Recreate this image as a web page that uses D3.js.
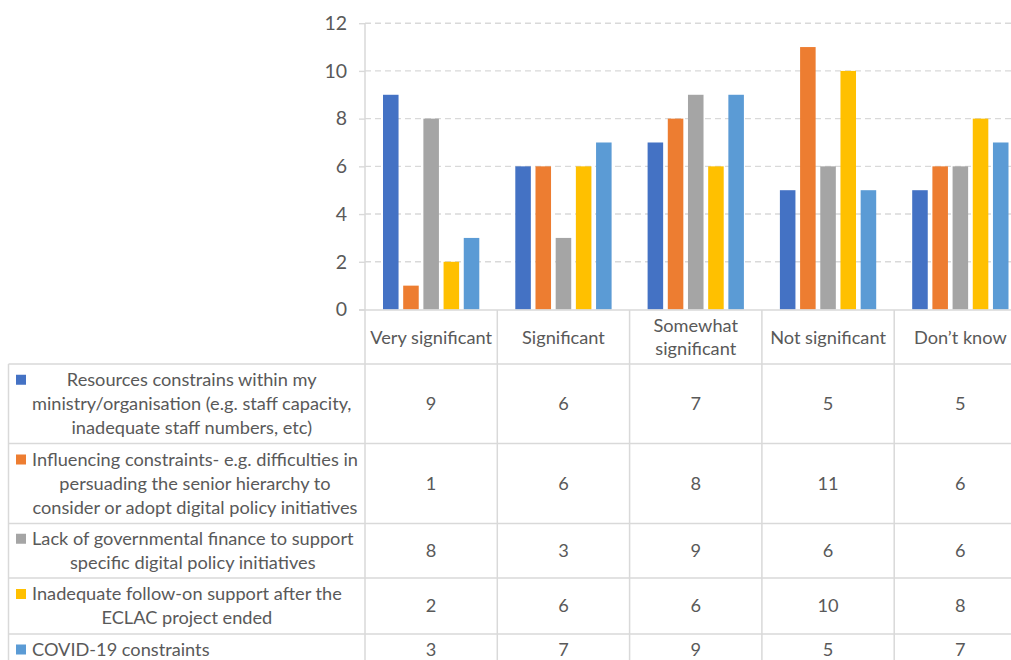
<!DOCTYPE html>
<html>
<head>
<meta charset="utf-8">
<script src="https://cdn.jsdelivr.net/npm/d3@7"></script>
<style>
  html, body { margin: 0; padding: 0; background: #fff; }
  svg { display: block; }
  text { font-family: Lato, "Open Sans", sans-serif; fill: #595959; }
</style>
</head>
<body>
<svg id="chart" width="1011" height="660"></svg>
<script>
// Response categories (x axis / table columns)
const categories = ["Very significant", "Significant", "Somewhat significant", "Not significant", "Don’t know"];
const categoryLines = [["Very significant"], ["Significant"], ["Somewhat", "significant"], ["Not significant"], ["Don’t know"]];

// Constraint series (legend / table rows)
const seriesNames = [
  "Resources constrains within my ministry/organisation (e.g. staff capacity, inadequate staff numbers, etc)",
  "Influencing constraints- e.g. difficulties in persuading the senior hierarchy to consider or adopt digital policy initiatives",
  "Lack of governmental finance to support specific digital policy initiatives",
  "Inadequate follow-on support after the ECLAC project ended",
  "COVID-19 constraints"
];
const seriesLines = [
  ["Resources constrains within my", "ministry/organisation (e.g. staff capacity,", "inadequate staff numbers, etc)"],
  ["Influencing constraints- e.g. difficulties in", "persuading the senior hierarchy to", "consider or adopt digital policy initiatives"],
  ["Lack of governmental finance to support", "specific digital policy initiatives"],
  ["Inadequate follow-on support after the", "ECLAC project ended"],
  ["COVID-19 constraints"]
];
const seriesColors = ["#4472C4", "#ED7D31", "#A5A5A5", "#FFC000", "#5B9BD5"];

// Counts per category for each series
const resources   = [9, 6, 7, 5, 5];
const influencing = [1, 6, 8, 11, 6];
const finance     = [8, 3, 9, 6, 6];
const followOn    = [2, 6, 6, 10, 8];
const covid       = [3, 7, 9, 5, 7];
const seriesValues = [resources, influencing, finance, followOn, covid];

const yTicks = [0, 2, 4, 6, 8, 10, 12];

// ---- layout ----
const svg = d3.select("#chart");
const plotLeft = 365;
const colWidth = 132.3;
const plotTop = 23.2, plotBottom = 309.5;
const tableLeft = 8.5;
const headerTop = 310, headerBottom = 364;
const rowEdges = [364, 443.5, 523.5, 578, 634, 666];
const gridColor = "#D9D9D9";
const fontSize = 18.2;

const x0 = d3.scaleBand()
  .domain(categories)
  .range([plotLeft, plotLeft + colWidth * categories.length])
  .padding(0);

const x1 = d3.scaleBand()
  .domain(d3.range(seriesNames.length))
  .range([18, colWidth - 18])
  .paddingInner(0.23);

const y = d3.scaleLinear().domain([0, 12]).range([plotBottom, plotTop]);

// dashed horizontal gridlines
svg.append("g")
  .selectAll("line")
  .data(yTicks.filter(t => t > 0))
  .join("line")
  .attr("x1", plotLeft).attr("x2", 1011)
  .attr("y1", d => y(d)).attr("y2", d => y(d))
  .attr("stroke", gridColor)
  .attr("stroke-width", 1.4)
  .attr("stroke-dasharray", "6,4");

// y axis with outward ticks
const yAxis = svg.append("g")
  .attr("transform", `translate(${plotLeft},0)`)
  .call(d3.axisLeft(y).tickValues(yTicks).tickSize(6).tickPadding(12));
yAxis.select(".domain").remove();
yAxis.selectAll(".tick line").attr("stroke", gridColor).attr("stroke-width", 1.4);
yAxis.selectAll(".tick text")
  .attr("font-size", 19.5)
  .attr("font-family", "Lato, sans-serif")
  .attr("fill", "#595959");

// bars
svg.append("g")
  .selectAll("g")
  .data(categories)
  .join("g")
  .attr("transform", d => `translate(${x0(d)},0)`)
  .selectAll("rect")
  .data((c, ci) => seriesValues.map((vals, si) => ({ si, v: vals[ci] })))
  .join("rect")
  .attr("x", d => x1(d.si))
  .attr("width", x1.bandwidth())
  .attr("y", d => y(d.v))
  .attr("height", d => y(0) - y(d.v))
  .attr("fill", d => seriesColors[d.si]);

// ---- data table grid ----
const grid = svg.append("g").attr("stroke", gridColor).attr("stroke-width", 1.5);
const tableRight = 1011;
// x axis line / header top
grid.append("line").attr("x1", plotLeft - 6).attr("x2", tableRight).attr("y1", headerTop).attr("y2", headerTop);
// row separators
rowEdges.slice(0, -1).forEach(ry => {
  grid.append("line")
    .attr("x1", tableLeft).attr("x2", tableRight)
    .attr("y1", ry).attr("y2", ry);
});
// vertical separators
grid.append("line").attr("x1", plotLeft).attr("x2", plotLeft).attr("y1", plotTop).attr("y2", 660);
categories.forEach((c, i) => {
  if (i === 0) return;
  grid.append("line").attr("x1", x0(c)).attr("x2", x0(c)).attr("y1", headerTop).attr("y2", 660);
});
grid.append("line").attr("x1", tableLeft).attr("x2", tableLeft).attr("y1", headerBottom).attr("y2", 660);

// category header labels
const lineH = 23;
const headerMid = (headerTop + headerBottom) / 2 + 0.5;
svg.append("g")
  .selectAll("text")
  .data(categories)
  .join("text")
  .attr("text-anchor", "middle")
  .attr("font-size", fontSize)
  .attr("x", d => x0(d) + x0.bandwidth() / 2)
  .each(function (d, i) {
    const lines = categoryLines[i];
    const t = d3.select(this);
    lines.forEach((ln, k) => {
      t.append("tspan")
        .attr("x", x0(d) + x0.bandwidth() / 2)
        .attr("y", headerMid + (k - (lines.length - 1) / 2) * lineH)
        .attr("dy", "0.35em")
        .text(ln);
    });
  });

// legend rows: key square + wrapped label
const textLeft = 32;
seriesLines.forEach((lines, si) => {
  const top = rowEdges[si], bottom = rowEdges[si + 1];
  const mid = si === seriesLines.length - 1 ? 649.5 : (top + bottom) / 2;
  const firstY = mid - (lines.length - 1) / 2 * 24;
  const g = svg.append("g");
  const texts = g.selectAll("text")
    .data(lines)
    .join("text")
    .attr("font-size", fontSize)
    .attr("y", (d, k) => firstY + k * 24)
    .attr("dy", "0.35em")
    .text(d => d);
  const widths = [];
  texts.each(function () { widths.push(this.getComputedTextLength()); });
  const maxW = d3.max(widths);
  if (lines.length === 1) {
    texts.attr("x", textLeft).attr("text-anchor", "start");
  } else {
    texts.attr("x", textLeft + maxW / 2).attr("text-anchor", "middle");
  }
  g.append("rect")
    .attr("x", 16).attr("y", firstY - 5)
    .attr("width", 10).attr("height", 10)
    .attr("fill", seriesColors[si]);

  // values for this row
  svg.append("g")
    .selectAll("text")
    .data(seriesValues[si])
    .join("text")
    .attr("text-anchor", "middle")
    .attr("font-size", fontSize)
    .attr("x", (d, ci) => x0(categories[ci]) + x0.bandwidth() / 2)
    .attr("y", mid)
    .attr("dy", "0.35em")
    .text(d => d);
});
</script>
</body>
</html>
